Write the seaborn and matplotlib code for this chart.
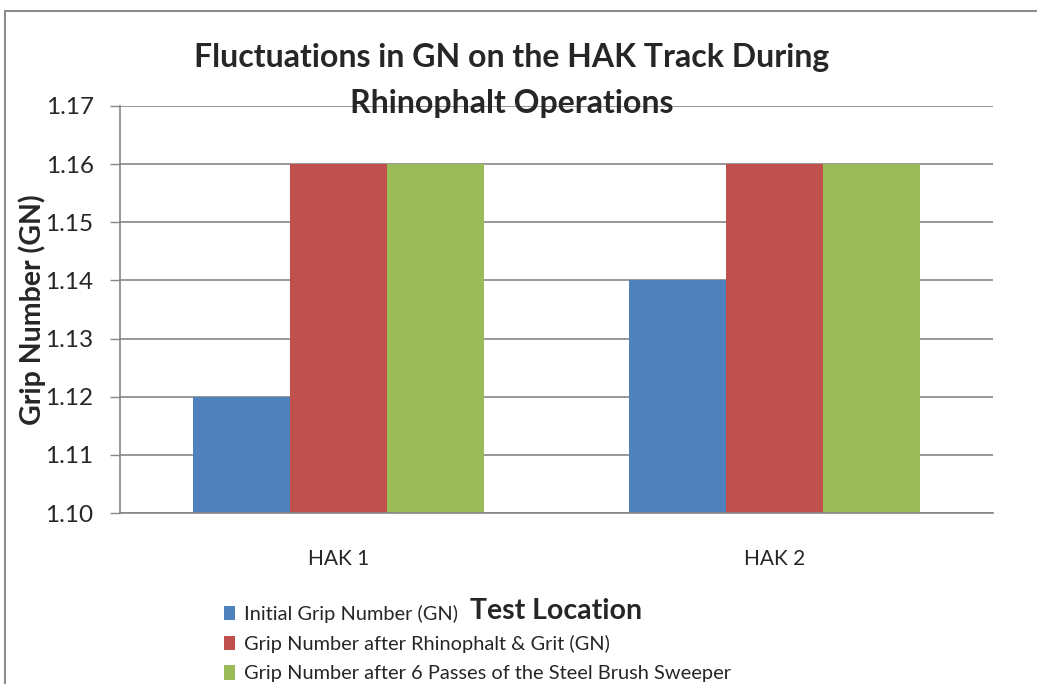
import matplotlib
matplotlib.use("Agg")
import matplotlib.pyplot as plt
from matplotlib.lines import Line2D
import seaborn as sns
import pandas as pd

# chart data
locations = ["HAK 1", "HAK 2"]
series_names = [
    "Initial Grip Number (GN)",
    "Grip Number after Rhinophalt & Grit (GN)",
    "Grip Number after 6 Passes of the Steel Brush Sweeper",
]
initial_gn = [1.12, 1.14]
after_grit_gn = [1.16, 1.16]
after_sweeper_gn = [1.16, 1.16]
y_ticks = [1.10, 1.11, 1.12, 1.13, 1.14, 1.15, 1.16, 1.17]

colors = ["#4F81BD", "#C0504D", "#9BBB59"]

df = pd.DataFrame({
    "Test Location": locations * 3,
    "Series": [series_names[0]] * 2 + [series_names[1]] * 2 + [series_names[2]] * 2,
    "GN": initial_gn + after_grit_gn + after_sweeper_gn,
})

sns.set_style("white")
plt.rcParams["font.family"] = ["Lato", "DejaVu Sans"]

fig = plt.figure(figsize=(10.37, 6.84), dpi=100)
ax = fig.add_axes([120 / 1037, 1 - 513 / 684, 873 / 1037, 407 / 684])

sns.barplot(data=df, x="Test Location", y="GN", hue="Series",
            palette=colors, width=0.667, dodge=True, saturation=1,
            edgecolor="none", ax=ax)

ax.set_ylim(1.10, 1.17)
ax.set_xlim(-0.5, 1.5)
ax.set_yticks(y_ticks)
ax.set_yticklabels([f"{v:.2f}" for v in y_ticks], fontsize=17.5)
ax.set_xticks(range(len(locations)))
ax.set_xticklabels(locations, fontsize=15)
ax.tick_params(axis="x", length=0, pad=26)
ax.tick_params(axis="y", length=7, width=1, color="#868686", left=True, pad=12)

ax.yaxis.grid(True, color="#868686", linewidth=1.2)
ax.set_axisbelow(True)
for side in ["top", "right"]:
    ax.spines[side].set_visible(False)
for side in ["left", "bottom"]:
    ax.spines[side].set_color("#868686")
    ax.spines[side].set_linewidth(1.2)

ax.set_xlabel("")
ax.set_ylabel("Grip Number (GN)", fontsize=20.5, fontweight="bold")
ax.yaxis.set_label_coords(-74 / 873, 0.5)

fig.text(512 / 1037, 1 - 58 / 684, "Fluctuations in GN on the HAK Track During",
         ha="center", va="center", fontsize=23, fontweight="bold")
fig.text(512 / 1037, 1 - 103 / 684, "Rhinophalt Operations",
         ha="center", va="center", fontsize=23, fontweight="bold")

# legend below axis, overlapping the x title like the original
handles, labels = ax.get_legend_handles_labels()
ax.legend_.remove()
fig.legend(handles, labels, loc="upper left",
           bbox_to_anchor=(216 / 1037, 1 - 597 / 684), frameon=False,
           fontsize=14.4, handlelength=0.55, handleheight=0.75,
           handletextpad=0.45, labelspacing=0.6, borderaxespad=0)

fig.text(556 / 1037, 1 - 611 / 684, "Test Location", ha="center", va="center",
         fontsize=20.5, fontweight="bold")

# chart area border
fig.add_artist(Line2D([5 / 1037, 5 / 1037], [0, 1 - 11 / 684],
                      color="#8C8C8C", linewidth=1.5))
fig.add_artist(Line2D([5 / 1037, 1], [1 - 11 / 684, 1 - 11 / 684],
                      color="#8C8C8C", linewidth=1.5))

fig.savefig("out.png", dpi=100)
